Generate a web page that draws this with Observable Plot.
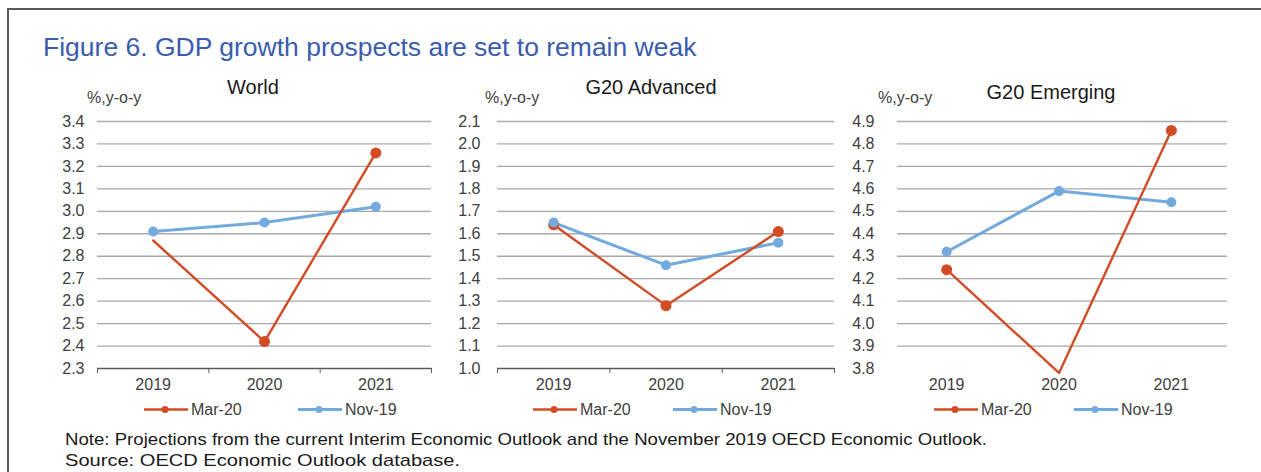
<!DOCTYPE html>
<html><head><meta charset="utf-8">
<script src="https://cdn.jsdelivr.net/npm/d3@7"></script>
<script src="https://cdn.jsdelivr.net/npm/@observablehq/plot@0.6"></script>
<style>
html,body{margin:0;padding:0;background:#fff;}
#root{position:relative;width:1261px;height:472px;overflow:hidden;font-family:"Liberation Sans",Arial,sans-serif;background:#fff;}
#root svg{position:absolute;overflow:visible;}
</style></head><body><div id="root"></div>
<script>
// ---- data ----
const years = ["2019", "2020", "2021"];
const seriesNames = ["Mar-20", "Nov-19"];

const worldMar20 = [2.87, 2.42, 3.26];
const worldNov19 = [2.91, 2.95, 3.02];
const worldMar20Marker = [false, true, true];
const worldTicks = [2.3, 2.4, 2.5, 2.6, 2.7, 2.8, 2.9, 3.0, 3.1, 3.2, 3.3, 3.4];

const advMar20 = [1.64, 1.28, 1.61];
const advNov19 = [1.65, 1.46, 1.56];
const advMar20Marker = [true, true, true];
const advTicks = [1.0, 1.1, 1.2, 1.3, 1.4, 1.5, 1.6, 1.7, 1.8, 1.9, 2.0, 2.1];

const emgMar20 = [4.24, 3.78, 4.86];
const emgNov19 = [4.32, 4.59, 4.54];
const emgMar20Marker = [true, false, true];
const emgTicks = [3.8, 3.9, 4.0, 4.1, 4.2, 4.3, 4.4, 4.5, 4.6, 4.7, 4.8, 4.9];

const panelTitles = ["World", "G20 Advanced", "G20 Emerging"];
const unitLabel = "%,y-o-y";
const mainTitle = "Figure 6. GDP growth prospects are set to remain weak";
const noteLines = [
  "Note: Projections from the current Interim Economic Outlook and the November 2019 OECD Economic Outlook.",
  "Source: OECD Economic Outlook database."
];

const RED = "#d34b25", BLUE = "#72aade", FONT = "'Liberation Sans', Arial, sans-serif";

const root = document.getElementById("root");

const panels = [
  {mar: worldMar20, nov: worldNov19, marker: worldMar20Marker, ticks: worldTicks,
   left: 40, width: 400, mL: 57, mR: 9, pad: 13, axisLine: true, inset: 0,
   title: panelTitles[0], tx: 253, ty: 94, ux: 87, lx: [144, 298]},
  {mar: advMar20, nov: advNov19, marker: advMar20Marker, ticks: advTicks,
   left: 440, width: 400, mL: 57, mR: 6, pad: 17, axisLine: true, inset: 0,
   title: panelTitles[1], tx: 651, ty: 94, ux: 485, lx: [533, 673]},
  {mar: emgMar20, nov: emgNov19, marker: emgMar20Marker, ticks: emgTicks,
   left: 840, width: 421, mL: 50, mR: 34, pad: 16, axisLine: false, inset: 7,
   title: panelTitles[2], tx: 1051, ty: 99, ux: 878, lx: [934, 1074]}
];

panels.forEach(p => {
  const mar = years.map((yr, i) => ({year: yr, i: i + 0.5, v: p.mar[i], marker: p.marker[i]}));
  const nov = years.map((yr, i) => ({year: yr, i: i + 0.5, v: p.nov[i], marker: true}));
  const lo = p.ticks[0];
  const marks = [
    Plot.ruleY(p.ticks.slice(1), {stroke: "#a9a9a9", strokeWidth: 1.3, insetLeft: p.inset}),
    p.axisLine ? Plot.ruleY([lo], {stroke: "#595959", strokeWidth: 1.3}) : null,
    p.axisLine ? Plot.axisX({ticks: [0, 1, 2, 3], tickSize: 5, tickFormat: () => "", stroke: "#595959", label: null}) : null,
    Plot.axisX({ticks: [0.5, 1.5, 2.5], tickSize: 0, tickPadding: 10, tickFormat: t => years[Math.floor(t)], label: null}),
    Plot.axisY({ticks: p.ticks, tickSize: 0, tickPadding: p.pad, tickFormat: d => d.toFixed(1), label: null}),
    Plot.line(nov, {x: "i", y: "v", stroke: BLUE, strokeWidth: 3}),
    Plot.line(mar, {x: "i", y: "v", stroke: RED, strokeWidth: 2.4}),
    Plot.dot(mar.filter(d => d.marker), {x: "i", y: "v", r: 5.5, fill: RED}),
    Plot.dot(nov, {x: "i", y: "v", r: 5, fill: BLUE})
  ].filter(Boolean);
  const chart = Plot.plot({
    width: p.width, height: 330,
    marginLeft: p.mL, marginRight: p.mR, marginTop: 51, marginBottom: 32,
    x: {domain: [0, 3], label: null},
    y: {domain: [lo, p.ticks[p.ticks.length - 1]], label: null},
    style: {fontSize: "16px", fontFamily: FONT, color: "#404040", background: "transparent"},
    marks
  });
  chart.style.left = p.left + "px";
  chart.style.top = "70px";
  root.appendChild(chart);
});

// ---- overlay: frame, titles, legends, notes ----
const ov = d3.select(root).append("svg")
  .attr("width", 1261).attr("height", 472)
  .style("left", "0px").style("top", "0px").style("pointer-events", "none")
  .style("font-family", FONT);

ov.append("path").attr("d", "M8,472V9H1261").attr("fill", "none").attr("stroke", "#5a5a5a").attr("stroke-width", 2);

ov.append("text").attr("x", 43).attr("y", 56).attr("fill", "#3a5dae").attr("font-size", 26.5).text(mainTitle);

panels.forEach(p => {
  ov.append("text").attr("x", p.tx).attr("y", p.ty).attr("text-anchor", "middle")
    .attr("font-size", 20).attr("fill", "#1a1a1a").text(p.title);
  ov.append("text").attr("x", p.ux).attr("y", 103).attr("font-size", 16).attr("fill", "#404040").text(unitLabel);
  [RED, BLUE].forEach((c, k) => {
    const x0 = p.lx[k];
    const g = ov.append("g");
    g.append("line").attr("x1", x0).attr("x2", x0 + 44).attr("y1", 409.5).attr("y2", 409.5)
      .attr("stroke", c).attr("stroke-width", k === 0 ? 2.4 : 3);
    g.append("circle").attr("cx", x0 + 21).attr("cy", 409.5).attr("r", 3.5).attr("fill", c);
    g.append("text").attr("x", x0 + 47).attr("y", 415).attr("font-size", 16).attr("fill", "#404040").text(seriesNames[k]);
  });
});

const noteWidths = [922, 395];
noteLines.forEach((t, k) => {
  ov.append("text").attr("x", 65).attr("y", 445 + k * 21).attr("font-size", 17)
    .attr("textLength", noteWidths[k]).attr("lengthAdjust", "spacingAndGlyphs")
    .attr("fill", "#1a1a1a").text(t);
});
</script></body></html>
